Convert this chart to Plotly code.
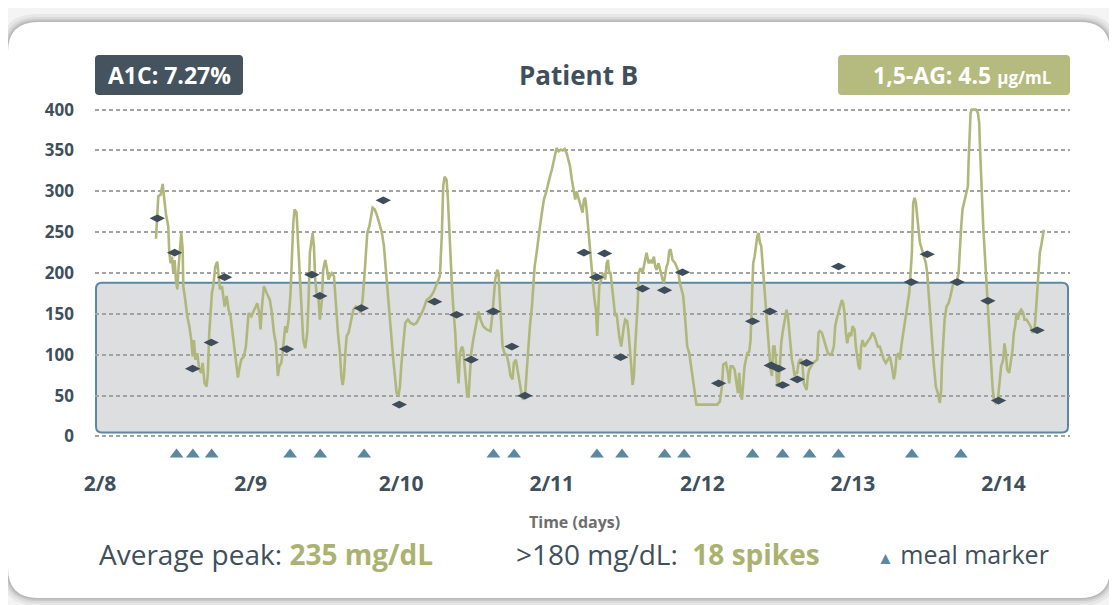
import plotly.graph_objects as go

# ---------------- data ----------------
day_labels = ["2/8", "2/9", "2/10", "2/11", "2/12", "2/13", "2/14"]
day_ticks = [0, 24, 48, 72, 96, 120, 144]          # hours since 2/8 00:00
glucose_ticks = [0, 50, 100, 150, 200, 250, 300, 350, 400]

# CGM trace (hours since 2/8 00:00, mg/dL), split by day
cgm_h_1 = [8.92, 9.13, 9.29, 9.66, 9.98, 10.19, 10.51, 10.88, 11.04, 11.26, 11.47, 11.68, 11.89, 12.10,
           12.32, 12.53, 12.74, 12.95, 13.17, 13.27, 13.59, 13.91, 14.23, 14.55, 14.76, 14.97, 15.19,
           15.50, 15.82, 16.14, 16.35, 16.67, 16.99, 17.20, 17.41, 17.63, 17.84, 18.05, 18.37, 18.69,
           18.90, 19.11, 19.43, 19.86, 20.18, 20.50, 20.81, 21.13, 21.45, 21.77, 21.98, 22.19, 22.51,
           22.94, 23.25, 23.47, 23.68]
cgm_v_1 = [242, 269, 294, 296, 309, 294, 272, 257, 225, 212, 220, 200, 216, 192,
           180, 208, 225, 249, 229, 184, 167, 147, 135, 118, 98, 118, 94,
           102, 82, 78, 90, 65, 61, 78, 127, 159, 176, 184, 208, 214,
           200, 180, 184, 159, 172, 155, 147, 127, 102, 86, 72, 82, 94,
           98, 110, 131, 151]

cgm_h_2 = [24.11, 24.64, 25.06, 25.38, 25.59, 25.81, 26.12, 26.55, 27.08, 27.40, 27.72, 28.03, 28.35,
           28.57, 28.88, 29.10, 29.31, 29.52, 29.74, 30.05, 30.37, 30.59, 30.80, 31.01, 31.33, 31.54,
           31.75, 31.97, 32.18, 32.39, 32.71, 33.03, 33.24, 33.45, 33.67, 33.88, 34.09, 34.30, 34.51,
           34.83, 35.04, 35.36, 35.57, 35.89, 36.10, 36.42, 36.63, 36.94, 37.29, 37.61, 37.92, 38.24,
           38.46, 38.67, 38.88, 39.09, 39.31, 39.62, 39.84, 40.15, 40.37, 40.79, 41.22, 41.54, 41.85,
           42.17, 42.38, 42.60, 42.92, 43.23, 43.45, 43.77, 44.08, 44.51, 44.93, 45.25, 45.46, 45.68,
           45.99, 46.21, 46.42, 46.74, 47.06, 47.27, 47.59, 47.80]
cgm_v_2 = [147, 155, 163, 151, 131, 159, 184, 176, 167, 151, 127, 114, 74,
           86, 90, 102, 123, 135, 127, 143, 176, 225, 261, 278, 274, 241,
           208, 176, 151, 118, 108, 127, 167, 225, 237, 249, 233, 192, 176,
           167, 143, 167, 204, 216, 208, 192, 196, 200, 196, 159, 127, 102,
           74, 63, 74, 102, 123, 127, 135, 147, 155, 159, 157, 151, 167,
           200, 220, 249, 257, 274, 280, 278, 272, 261, 249, 233, 212, 192,
           167, 135, 118, 94, 70, 53, 51, 61]

cgm_h_3 = [48.01, 48.33, 48.65, 49.07, 49.50, 50.03, 50.46, 50.99, 51.52, 52.05, 52.58, 53.11, 53.54,
           53.85, 54.17, 54.49, 54.70, 54.92, 55.24, 55.45, 55.66, 55.87, 56.09, 56.30, 56.62, 56.83,
           57.15, 57.36, 57.68, 57.89, 58.10, 58.31, 58.53, 58.74, 58.95, 59.16, 59.48, 59.80, 60.12,
           60.33, 60.65, 61.07, 61.61, 62.24, 62.56, 62.78, 62.99, 63.31, 63.52, 63.73, 63.94, 64.16,
           64.47, 64.79, 65.11, 65.43, 65.75, 65.96, 66.28, 66.60, 66.93, 67.25, 67.46, 67.78, 67.99,
           68.20, 68.52, 68.84, 69.05, 69.27, 69.59, 69.80, 70.12, 70.43, 70.75, 71.07, 71.39, 71.71]
cgm_v_3 = [86, 118, 139, 143, 139, 137, 139, 147, 155, 167, 170, 176, 184,
           190, 196, 249, 306, 318, 314, 290, 249, 216, 184, 159, 127, 94,
           65, 102, 110, 106, 86, 61, 49, 49, 78, 102, 118, 131, 147,
           153, 143, 135, 131, 129, 151, 172, 192, 204, 200, 167, 135, 110,
           102, 100, 90, 74, 70, 90, 94, 78, 65, 49, 45, 53, 78,
           102, 135, 159, 184, 208, 225, 241, 257, 274, 290, 298, 310, 318]

cgm_h_4 = [72.03, 72.24, 72.45, 72.77, 73.09, 73.41, 73.73, 74.05, 74.36, 74.68, 74.90, 75.21, 75.43,
           75.74, 75.96, 76.28, 76.59, 76.91, 77.13, 77.34, 77.55, 77.76, 77.97, 78.19, 78.40, 78.61,
           78.82, 79.04, 79.25, 79.36, 79.57, 79.89, 80.21, 80.52, 80.74, 80.95, 81.16, 81.37, 81.59,
           81.90, 82.12, 82.33, 82.54, 82.75, 83.07, 83.29, 83.50, 83.71, 84.03, 84.24, 84.45, 84.67,
           84.88, 85.09, 85.30, 85.52, 85.73, 85.83, 86.15, 86.47, 86.68, 86.90, 87.11, 87.43, 87.75,
           87.96, 88.28, 88.49, 88.70, 89.02, 89.34, 89.66, 89.87, 90.08, 90.29, 90.51, 90.72, 90.93,
           91.25, 91.67, 92.10, 92.42, 92.74, 92.95, 93.27, 93.59, 93.91, 94.12, 94.33, 94.54, 94.86,
           95.07]
cgm_v_4 = [327, 335, 343, 353, 349, 351, 350, 352, 347, 339, 331, 314, 302,
           290, 300, 290, 282, 274, 290, 292, 278, 257, 241, 225, 200, 184,
           167, 155, 123, 151, 184, 192, 200, 192, 212, 216, 200, 200, 184,
           167, 147, 151, 135, 123, 110, 127, 135, 143, 141, 127, 110, 86,
           63, 74, 110, 135, 167, 200, 206, 200, 208, 220, 225, 212, 216,
           212, 220, 208, 204, 212, 200, 192, 188, 200, 208, 212, 227, 229,
           216, 212, 204, 188, 180, 172, 143, 110, 102, 90, 78, 65, 53,
           39]

cgm_h_5 = [96.66, 98.38, 98.80, 99.12, 99.33, 99.76, 100.08, 100.29, 100.50, 100.82, 101.14, 101.46,
           101.67, 101.88, 102.10, 102.31, 102.52, 102.73, 102.94, 103.16, 103.48, 103.69, 103.90,
           104.11, 104.33, 104.54, 104.75, 104.96, 105.18, 105.39, 105.60, 105.81, 106.02, 106.24,
           106.45, 106.66, 106.87, 107.09, 107.30, 107.51, 107.72, 107.94, 108.15, 108.36, 108.57,
           108.79, 109.00, 109.21, 109.42, 109.64, 109.85, 110.06, 110.27, 110.49, 110.70, 110.91,
           111.12, 111.34, 111.55, 111.76, 111.97, 112.18, 112.40, 112.61, 112.82, 113.03, 113.35,
           113.67, 113.99, 114.31, 114.52, 114.73, 115.05, 115.37, 115.69, 116.01, 116.33, 116.65,
           116.96, 117.18, 117.39, 117.71, 118.03, 118.24, 118.45, 118.66, 118.88, 119.09, 119.41,
           119.72]
cgm_v_5 = [39, 39, 43, 61, 88, 90, 78, 65, 86, 86, 82, 65,
           53, 78, 53, 45, 65, 86, 94, 102, 104, 118, 167,
           212, 220, 233, 245, 249, 237, 233, 212, 184, 167, 143,
           118, 102, 82, 74, 110, 110, 94, 61, 65, 86, 114,
           127, 135, 147, 155, 147, 127, 110, 94, 86, 74, 78,
           78, 90, 94, 94, 86, 65, 61, 57, 74, 82, 86,
           90, 92, 94, 127, 129, 127, 118, 108, 102, 100, 102,
           110, 135, 143, 151, 159, 167, 163, 151, 127, 114, 127,
           123]

cgm_h_6 = [119.94, 120.26, 120.47, 120.68, 120.89, 121.11, 121.32, 121.53, 121.85, 122.17, 122.49,
           122.80, 123.12, 123.44, 123.65, 123.97, 124.29, 124.61, 124.93, 125.25, 125.57, 125.88,
           126.20, 126.52, 126.73, 126.94, 127.26, 127.49, 127.70, 128.02, 128.23, 128.45, 128.66,
           128.98, 129.19, 129.40, 129.51, 129.61, 129.83, 130.04, 130.25, 130.46, 130.68, 130.99,
           131.31, 131.63, 131.84, 132.06, 132.27, 132.48, 132.69, 132.91, 133.22, 133.54, 133.86,
           134.07, 134.18, 134.39, 134.61, 134.92, 135.24, 135.56, 135.88, 136.20, 136.52, 136.84,
           137.05, 137.26, 137.47, 137.79, 138.11, 138.32, 138.43, 138.53, 138.64, 138.75, 138.96,
           139.60, 139.92, 140.13, 140.23, 140.34, 140.55, 140.77, 140.98, 141.19, 141.40, 141.61,
           141.83, 142.04, 142.25, 142.46, 142.78, 143.10, 143.31, 143.42, 143.63]
cgm_v_6 = [135, 131, 110, 94, 86, 82, 110, 118, 110, 114, 118,
           121, 127, 123, 118, 110, 110, 102, 94, 90, 94, 98,
           86, 70, 78, 98, 102, 94, 110, 127, 135, 151, 159,
           176, 200, 225, 257, 286, 292, 286, 269, 249, 237, 229,
           220, 212, 200, 176, 151, 127, 102, 86, 61, 53, 41,
           57, 86, 118, 143, 159, 163, 172, 184, 190, 188, 200,
           233, 257, 278, 290, 298, 306, 335, 359, 372, 396, 400,
           400, 396, 384, 359, 331, 298, 257, 229, 200, 167, 135,
           110, 86, 61, 45, 41, 45, 61, 78, 86]

cgm_h_7 = [143.95, 144.16, 144.38, 144.59, 144.91, 145.12, 145.44, 145.65, 145.86, 146.08, 146.29,
           146.50, 146.82, 147.14, 147.35, 147.67, 147.99, 148.31, 148.62, 148.94, 149.15, 149.36,
           149.58, 149.79, 150.00, 150.21, 150.43]
cgm_v_7 = [94, 114, 102, 82, 78, 90, 106, 127, 135, 151, 143,
           151, 155, 151, 143, 143, 139, 135, 127, 131, 151, 176,
           208, 225, 233, 241, 253]

# fingerstick readings
fingerstick_h = [9.13, 11.89, 14.76, 17.73, 19.86, 29.74, 33.77, 35.04, 41.64, 45.15, 47.70, 53.32,
                 56.83, 59.16, 62.67, 65.64, 67.72, 77.13, 79.14, 80.42, 82.97, 86.47, 89.97, 92.84,
                 98.60, 104.01, 106.77, 106.98, 108.15, 108.79, 111.12, 112.61, 117.71, 129.30,
                 131.84, 136.62, 141.51, 143.21, 149.37]
fingerstick_v = [267, 225, 83, 115, 195, 107, 198, 172, 157, 289, 39, 165,
                 149, 94, 153, 110, 50, 225, 195, 224, 97, 181, 179, 201,
                 65, 141, 153, 87, 83, 63, 70, 90, 208, 189,
                 223, 189, 166, 44, 130]

# meal markers
meal_h = [12.2, 14.8, 17.8, 30.3, 35.1, 42.1, 62.7, 66.0, 79.2, 83.2, 90.0, 93.1,
          104.0, 108.8, 113.1, 117.7, 129.4, 137.2]
meal_level = [-22] * len(meal_h)

target_low, target_high = 5, 188

# ---------------- layout helpers ----------------
PAGE_OFF = 8                      # browser body margin
W, H = 1109, 597
ML, MR, MT, MB = 87, 47, 100, 144
PW, PH = W - ML - MR, H - MT - MB
Y_RANGE = [-30, 402]
X_RANGE = [-0.8, 154.6]


def fx(px):          # page pixel x -> paper x
    return (px - PAGE_OFF - ML) / PW


def fy(py):          # page pixel y -> paper y
    return (H - MB - (py - PAGE_OFF)) / PH


def rounded_path(x0, y0, x1, y1, r):
    pts = lambda x, y: f"{fx(x):.5f},{fy(y):.5f}"
    return (f"M {pts(x0 + r, y0)} L {pts(x1 - r, y0)} Q {pts(x1, y0)} {pts(x1, y0 + r)} "
            f"L {pts(x1, y1 - r)} Q {pts(x1, y1)} {pts(x1 - r, y1)} "
            f"L {pts(x0 + r, y1)} Q {pts(x0, y1)} {pts(x0, y1 - r)} "
            f"L {pts(x0, y0 + r)} Q {pts(x0, y0)} {pts(x0 + r, y0)} Z")


def band_path(px0, px1, v0, v1, r_px):
    rx = r_px / PW
    ry = r_px * (Y_RANGE[1] - Y_RANGE[0]) / PH
    a, b = fx(px0), fx(px1)
    return (f"M {a + rx},{v1} L {b - rx},{v1} Q {b},{v1} {b},{v1 - ry} "
            f"L {b},{v0 + ry} Q {b},{v0} {b - rx},{v0} "
            f"L {a + rx},{v0} Q {a},{v0} {a},{v0 + ry} "
            f"L {a},{v1 - ry} Q {a},{v1} {a + rx},{v1} Z")


DARK = "#3f4f5b"
OLIVE = "#b1b77b"
OLIVE_TXT = "#abb26f"
BLUE = "#5b87a3"
FONT = "Open Sans"

fig = go.Figure()

segments = [(cgm_h_1, cgm_v_1), (cgm_h_2, cgm_v_2), (cgm_h_3, cgm_v_3), (cgm_h_4, cgm_v_4),
            (cgm_h_5, cgm_v_5), (cgm_h_6, cgm_v_6), (cgm_h_7, cgm_v_7)]
all_h, all_v = [], []
for hs, vs in segments:
    all_h += hs
    all_v += vs

fig.add_trace(go.Scatter(x=all_h, y=all_v, mode="lines",
                         line=dict(color=OLIVE, width=2.6), hoverinfo="skip", showlegend=False))
fig.add_trace(go.Scatter(x=fingerstick_h, y=fingerstick_v, mode="markers",
                         marker=dict(symbol="diamond-wide", size=11, color="#3e4d59"),
                         showlegend=False))
fig.add_trace(go.Scatter(x=meal_h, y=meal_level, mode="markers", cliponaxis=False,
                         marker=dict(symbol="triangle-up", size=12, color=BLUE),
                         showlegend=False))

shapes = []
# card shadow + card
for op, grow in [(0.10, 8), (0.12, 5), (0.16, 3), (0.20, 1.5)]:
    shapes.append(dict(type="path", xref="paper", yref="paper", layer="below",
                       path=rounded_path(8 - grow, 22 - grow, 1110 + grow, 598 + grow, 30 + grow),
                       fillcolor=f"rgba(120,120,120,{op})", line=dict(width=0)))
shapes.append(dict(type="path", xref="paper", yref="paper", layer="below",
                   path=rounded_path(8, 22, 1110, 598, 30),
                   fillcolor="white", line=dict(width=0)))
# target band
shapes.append(dict(type="path", xref="paper", yref="y", layer="below",
                   path=band_path(96, 1068, target_low, target_high, 6),
                   fillcolor="#dcdee0", line=dict(color=BLUE, width=2)))
# header boxes
shapes.append(dict(type="path", xref="paper", yref="paper", layer="above",
                   path=rounded_path(95, 55, 243, 95, 4), fillcolor="#45535f", line=dict(width=0)))
shapes.append(dict(type="path", xref="paper", yref="paper", layer="above",
                   path=rounded_path(838, 55, 1070, 95, 4), fillcolor="#b5ba7e", line=dict(width=0)))

annotations = [
    dict(text="<b>Patient B</b>", x=fx(578), y=fy(75), font=dict(size=26, color=DARK)),
    dict(text="<b>A1C: 7.27%</b>", x=fx(169), y=fy(75), font=dict(size=23, color="white")),
    dict(text="<b>1,5-AG: 4.5 <span style='font-size:17px'>μg/mL</span></b>", x=fx(962), y=fy(75),
         font=dict(size=23, color="white")),
    dict(text="<b>Time (days)</b>", x=fx(574), y=fy(522), font=dict(size=16, color="#6e6e6e")),
    dict(text=f"Average peak: <span style='color:{OLIVE_TXT}'><b>235 mg/dL</b></span>",
         x=fx(97), y=fy(554), xanchor="left", font=dict(size=28, color=DARK)),
    dict(text=f"&gt;180 mg/dL:  <span style='color:{OLIVE_TXT}'><b>18 spikes</b></span>",
         x=fx(514), y=fy(554), xanchor="left", font=dict(size=28, color=DARK)),
    dict(text=f"<span style='color:{BLUE};font-size:17px'>▲</span> meal marker",
         x=fx(875), y=fy(554), xanchor="left", font=dict(size=25, color=DARK)),
]
for a in annotations:
    a.update(xref="paper", yref="paper", showarrow=False, yanchor="middle",
             font=dict(family=FONT, **a["font"]))
    a.setdefault("xanchor", "center")

fig.update_layout(
    width=W, height=H,
    margin=dict(l=ML, r=MR, t=MT, b=MB, pad=0),
    paper_bgcolor="#f4f4f4", plot_bgcolor="rgba(0,0,0,0)",
    font=dict(family=FONT, color=DARK),
    shapes=shapes, annotations=annotations, showlegend=False,
    xaxis=dict(range=X_RANGE, tickvals=day_ticks, ticktext=day_labels, showgrid=False,
               zeroline=False, showline=False, ticks="", ticklabelstandoff=8,
               tickfont=dict(family=FONT, size=21, color=DARK, weight="bold")),
    yaxis=dict(range=Y_RANGE, tickvals=glucose_ticks, showgrid=True, gridcolor="#a2a2a2",
               griddash="4px,3px", gridwidth=1.8, zeroline=False, showline=False, ticks="",
               ticklabelstandoff=20,
               tickfont=dict(family=FONT, size=17, color=DARK, weight="bold")),
)

fig.write_html("out.html")
